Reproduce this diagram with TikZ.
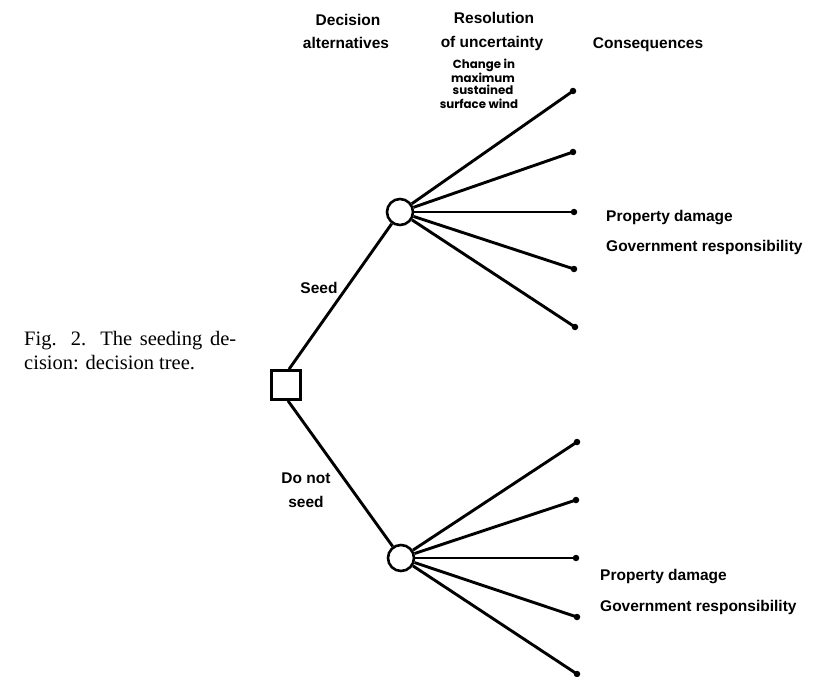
\documentclass[tikz,border=0pt]{standalone}
\usepackage{fontspec}
\setmainfont{Liberation Sans}
\newfontfamily\capfont{Liberation Serif}
\newfontfamily\smallfont{Poppins}
\begin{document}
\begin{tikzpicture}[x=1pt,y=-1pt,
  lbl/.style={font=\bfseries\fontsize{15.5}{18}\selectfont, inner sep=0pt, anchor=base},
  lblw/.style={lbl, anchor=base west},
  sm/.style={font=\smallfont\bfseries\fontsize{11.8}{13}\selectfont, inner sep=0pt, anchor=base},
  capt/.style={font=\capfont\fontsize{20.5}{24}\selectfont, inner sep=0pt, anchor=base west},
  edge/.style={line width=2.9pt},
  chance/.style={circle, draw, line width=2.6pt, minimum size=26pt, inner sep=0pt},
  decision/.style={rectangle, draw, line width=2.6pt, minimum size=29pt, inner sep=0pt},
  leaf/.style={circle, fill, minimum size=6.5pt, inner sep=0pt}]
\useasboundingbox (0,0) rectangle (820,677);
% header labels
\node[lbl] (h1a) at (348,26) {Decision};
\node[lbl] (h1b) at (346,49) {alternatives};
\node[lbl] (h2a) at (494,24) {Resolution};
\node[lbl] (h2b) at (492,48) {of uncertainty};
\node[sm] (s1) at (484,69) {Change in};
\node[sm] (s2) at (483,82) {maximum};
\node[sm] (s3) at (483,95) {sustained};
\node[sm] (s4) at (479,108) {surface wind};
\node[lbl] (h3) at (648,49) {Consequences};
% caption
\node[capt] (cap1) at (24,345) {\makebox[212pt][s]{Fig. 2. The seeding de-}};
\node[capt] (cap2) at (24,369) {cision: decision tree.};
% nodes
\node[decision] (sq) at (286,385) {};
\node[chance] (c1) at (400,212) {};
\node[chance] (c2) at (401,558) {};
\node[leaf] (u1) at (573,91) {};
\node[leaf] (u2) at (573,152) {};
\node[leaf] (u3) at (574,212) {};
\node[leaf] (u4) at (574,269) {};
\node[leaf] (u5) at (575,327) {};
\node[leaf] (l1) at (577,442) {};
\node[leaf] (l2) at (576,500) {};
\node[leaf] (l3) at (576,558) {};
\node[leaf] (l4) at (577,617) {};
\node[leaf] (l5) at (577,674) {};
% edges
\draw[edge] ([xshift=3pt]sq.north) -- (c1);
\draw[edge] ([xshift=2pt]sq.south) -- (c2);
\foreach \t in {u1,u2,u3,u4,u5} \draw[edge] (c1) -- (\t.center);
\foreach \t in {l1,l2,l3,l4,l5} \draw[edge] (c2) -- (\t.center);
% branch labels
\node[lbl] (seed) at (319,293) {Seed};
\node[lbl] (dn1) at (306,483) {Do not};
\node[lbl] (dn2) at (306,507) {seed};
% consequences
\node[lblw] (pd1) at (606,221) {Property damage};
\node[lblw] (gr1) at (606,251) {Government responsibility};
\node[lblw] (pd2) at (600,580) {Property damage};
\node[lblw] (gr2) at (600,611) {Government responsibility};
\end{tikzpicture}
\end{document}
